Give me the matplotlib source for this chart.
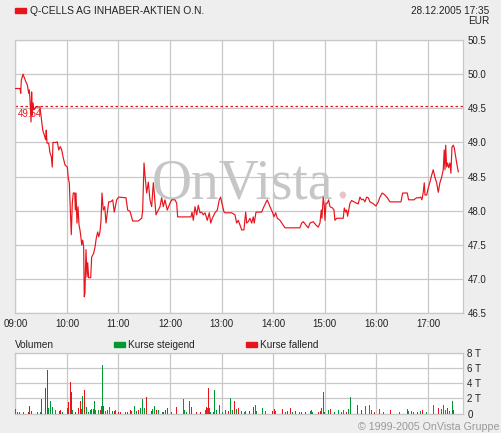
import matplotlib
matplotlib.use("Agg")
import matplotlib.pyplot as plt
from matplotlib.ticker import FixedLocator, FuncFormatter
from matplotlib.patches import Rectangle

# Kursverlauf 28.12.2005, Minuten seit 09:00
price_min = [0, 5.5, 6.3, 7, 9, 11.6, 14, 15.6, 16.3, 17.1, 18.3, 19, 19.8, 20.6, 21.7, 24.1, 28.7,
             30.2, 31.9, 33.7, 35.3, 36, 36.9, 38.8, 40.3, 41.9, 43, 43.8, 47.3, 48.8, 50.5, 52.3, 54,
             55.5, 57.8, 60.5, 61.6, 62.8, 64.4, 65.1, 66.3, 67.4, 69.1, 69.8, 70.6, 71.7, 72.9, 74.1,
             75.2, 76.4, 77.2, 78.4, 79.5, 80.2, 81, 82.2, 83.4, 84.2, 85.3, 87.7, 88.8, 91.2, 92.7,
             94.2, 95.8, 97, 98.5, 99.7, 100.8, 102.3, 104, 105.5, 107, 108.6, 110.9, 113.3, 115.1,
             117.9, 120.2, 128.7, 130.7, 133.4, 136.5, 143, 147, 148.1, 149.7, 150.8, 152.8, 154.7,
             156.6, 158.6, 160.5, 161.6, 163.6, 165.1, 168.3, 170.2, 172.1, 174, 176.7, 179.9, 181.9,
             185.7, 187.7, 188.8, 204.3, 205.5, 207, 209, 210.9, 212.8, 214.8, 216.7, 218.6, 220.6,
             223.3, 225.6, 227.2, 229.1, 232.2, 234.9, 237.2, 238.8, 240.3, 242.7, 244.7, 251.6,
             255.5, 257.4, 259.3, 261.3, 263.3, 265.9, 267.9, 269.1, 270.9, 272.9, 274.9, 276.7,
             277.9, 279.9, 286.5, 288.4, 293, 296.2, 299.3, 300.8, 302.8, 304.7, 307.8, 313.6, 331,
             333, 334.9, 338, 340.7, 342.7, 346.5, 349.7, 352.3, 354.3, 355.8, 356.6, 358.1, 359.3,
             360.1, 361.3, 362.8, 364.4, 365.9, 369, 370.6, 371.7, 373.7, 381.4, 382.6, 384.2, 385.3,
             386.5, 387.7, 389.2, 391.2, 393.8, 397, 398.8, 400.8, 402.8, 404.7, 406.6, 408.6, 410.5,
             412.4, 415.6, 419.4, 422.1, 424.1, 426.7, 429.9, 432.6, 435.7, 448.5, 450.5, 455.8,
             457.4, 463.6, 466.7, 469.8, 471.4, 472.9, 474.4, 475.6, 476.4, 478.4, 480.2, 482.2,
             484.2, 486, 488, 490, 491.9, 493.8, 495.8, 497.7, 498.8, 499.7, 500.5, 501.6, 502.8,
             504, 505.5, 506.6, 507.8, 509.3, 510.5, 512.1, 513.3, 515.2]
price = [49.79, 49.79, 49.72, 49.91, 50.00, 49.91, 49.84, 49.72, 49.77, 49.62, 49.30, 49.74, 49.40,
         49.58, 49.48, 49.52, 49.52, 49.36, 49.18, 49.11, 49.04, 49.18, 48.99, 48.99, 48.85, 48.79,
         48.64, 49.00, 49.00, 49.01, 48.89, 48.94, 48.89, 48.79, 48.67, 48.64, 48.48, 48.41, 47.86,
         47.65, 48.11, 48.26, 48.26, 48.01, 48.26, 47.82, 48.06, 47.79, 47.72, 47.60, 47.50, 47.57,
         47.47, 46.74, 46.80, 47.43, 47.03, 47.24, 47.02, 47.02, 47.32, 47.38, 47.47, 47.60, 47.69,
         47.62, 47.69, 47.86, 48.26, 48.01, 48.06, 47.82, 47.97, 48.13, 48.13, 48.16, 47.98, 48.16,
         48.20, 48.19, 48.01, 47.99, 47.85, 47.85, 47.89, 48.00, 48.70, 48.52, 48.26, 48.42, 48.16,
         48.06, 48.41, 48.26, 47.94, 47.98, 48.06, 48.19, 48.06, 48.16, 48.01, 48.11, 48.16, 48.16,
         48.11, 47.91, 47.91, 47.98, 47.86, 48.06, 47.94, 48.08, 47.97, 47.98, 47.94, 47.97, 47.86,
         47.97, 47.82, 47.89, 47.97, 48.01, 48.16, 48.20, 48.11, 47.98, 47.97, 47.97, 47.94, 47.82,
         47.86, 47.79, 47.72, 47.72, 47.98, 47.82, 47.84, 47.89, 47.82, 47.91, 47.82, 47.98, 47.98,
         48.04, 48.16, 48.06, 47.97, 47.91, 47.97, 47.89, 47.86, 47.75, 47.75, 47.82, 47.84, 47.79,
         47.75, 47.82, 47.84, 47.79, 47.76, 47.82, 48.01, 47.89, 48.20, 48.08, 47.86, 48.11, 48.11,
         48.16, 48.06, 48.04, 48.01, 47.86, 47.89, 47.89, 48.04, 47.98, 48.01, 47.92, 48.01, 48.11,
         48.15, 48.13, 48.11, 48.10, 48.20, 48.16, 48.17, 48.13, 48.20, 48.19, 48.13, 48.11, 48.07,
         48.13, 48.20, 48.26, 48.23, 48.19, 48.13, 48.13, 48.26, 48.26, 48.16, 48.16, 48.19, 48.19,
         48.20, 48.16, 48.27, 48.41, 48.23, 48.23, 48.33, 48.42, 48.52, 48.60, 48.49, 48.41, 48.27,
         48.41, 48.49, 48.60, 48.89, 48.60, 48.96, 48.64, 48.70, 48.63, 48.70, 48.55, 48.93, 48.96,
         48.92, 48.79, 48.70, 48.57]
prev_close = 49.54

# Umsatz (Tausend Stück); g = Kurse steigend, r = Kurse fallend
vol_min = [0, 3, 5, 9, 15, 17, 19, 26, 29, 30, 31, 35, 37, 39, 41, 43, 45, 47, 51, 53, 55, 61, 62, 64,
           65, 67, 70, 73, 76, 77, 78, 80, 81, 83, 85, 88, 89, 91, 92, 93, 95, 97, 99, 100, 101, 103,
           105, 107, 109, 110, 113, 115, 117, 120, 122, 128, 131, 134, 135, 139, 141, 143, 146, 148,
           150, 153, 158, 160, 162, 164, 167, 171, 172, 175, 177, 182, 188, 195, 196, 197, 199, 203,
           205, 209, 211, 215, 221, 222, 224, 225, 226, 227, 230, 232, 234, 237, 238, 241, 245, 248,
           250, 252, 253, 255, 257, 260, 263, 266, 268, 272, 277, 279, 281, 287, 291, 299, 301, 303,
           311, 314, 316, 317, 320, 322, 326, 331, 333, 337, 343, 345, 346, 352, 353, 355, 356, 358,
           359, 360, 364, 366, 367, 371, 376, 379, 382, 385, 388, 390, 398, 403, 407, 409, 412, 414,
           418, 424, 428, 436, 447, 456, 457, 461, 463, 468, 471, 474, 478, 486, 492, 496, 498, 500,
           503, 505, 508, 510, 516]
vol_k = [0.58, 0.22, 0.22, 0.22, 0.22, 0.98, 0.31, 0.22, 0.22, 0.44, 1.91, 3.42, 5.78, 0.67, 1.64,
         0.84, 0.22, 0.44, 0.36, 0.44, 0.22, 0.67, 1.56, 4.22, 2.84, 0.44, 0.22, 0.67, 1.64, 0.58,
         2.31, 3.11, 1.11, 0.89, 0.22, 0.44, 0.58, 0.62, 1.69, 0.44, 1.42, 0.44, 0.44, 0.98, 6.44,
         0.98, 0.31, 0.44, 0.84, 0.53, 0.31, 0.31, 0.44, 0.22, 0.22, 0.22, 0.22, 0.44, 0.31, 0.98,
         0.36, 0.53, 0.67, 1.91, 0.67, 2.18, 0.36, 0.58, 0.98, 0.44, 0.53, 0.22, 0.22, 0.44, 0.67,
         0.22, 0.84, 0.44, 1.91, 0.53, 0.22, 1.69, 0.89, 0.31, 0.22, 0.22, 0.44, 0.89, 0.67, 3.42,
         0.67, 0.22, 0.22, 3.11, 0.44, 0.44, 1.11, 0.22, 0.44, 0.36, 2.04, 0.67, 0.53, 1.69, 0.58,
         0.76, 0.31, 0.22, 0.31, 0.31, 0.89, 1.11, 0.31, 0.76, 0.31, 0.31, 0.58, 0.36, 0.58, 0.22,
         0.22, 0.31, 0.71, 0.22, 0.31, 0.22, 0.22, 0.22, 0.31, 0.44, 0.22, 0.22, 0.22, 0.31, 0.76,
         2.89, 2.49, 0.22, 0.44, 0.84, 0.62, 0.22, 0.44, 0.22, 0.44, 0.22, 0.58, 2.18, 1.11, 0.44,
         0.98, 0.22, 1.11, 0.44, 0.22, 0.58, 0.22, 0.44, 0.22, 0.58, 0.36, 0.31, 0.22, 0.22, 0.31,
         0.44, 0.22, 1.11, 0.76, 0.58, 1.11, 0.44, 0.76, 0.31, 1.69, 0.44, 2.31]
vol_dir = ("ggggrrrggr" "rrrgggrgrr" "grrrrgrrrg" "grrggggggg" "ggrggrgggg" "grgrrrrrgg"
           "grgggrrggr" "ggrrrgrggg" "ggrgrrgrgr" "ggrgggrgrr" "grgrgrgggr" "rggggrrgrg"
           "grrgrgrrgg" "ggrrgggggr" "rggggrggrr" "ggggrggrgr" "gggrgrggrg" "ggrggrr")

hours = ["09:00", "10:00", "11:00", "12:00", "13:00", "14:00", "15:00", "16:00", "17:00"]
price_ticks = [46.5, 47.0, 47.5, 48.0, 48.5, 49.0, 49.5, 50.0, 50.5]
vol_ticks = [0, 2, 4, 6, 8]

BG = "#eeeeee"
GRID = "#c8c8c8"
RED = "#e8141c"
GREEN = "#009933"
TXT = "#222222"
plt.rcParams["font.family"] = ["Liberation Sans", "DejaVu Sans"]

fig = plt.figure(figsize=(5.01, 4.33), dpi=100, facecolor=BG)
W, H = 501, 433


def box(x0, y0, x1, y1):
    return [x0 / W, 1 - y1 / H, (x1 - x0) / W, (y1 - y0) / H]


ax = fig.add_axes(box(15.3, 40, 463.3, 313.2))
av = fig.add_axes(box(15.3, 353.3, 463.3, 413.5))
xmax = 521

hour_pos = [i * 60 for i in range(len(hours))]
for a in (ax, av):
    a.set_facecolor("white")
    a.set_xlim(0, xmax)
    a.xaxis.set_major_locator(FixedLocator(hour_pos))
    a.grid(True, color=GRID, lw=0.9, zorder=0)
    a.set_axisbelow(True)
    for s in a.spines.values():
        s.set_color(GRID)
        s.set_linewidth(0.9)
    a.yaxis.tick_right()
    a.tick_params(length=0, labelsize=7, colors=TXT, pad=3)

ax.set_ylim(46.5, 50.5)
ax.yaxis.set_major_locator(FixedLocator(price_ticks))
ax.yaxis.set_major_formatter(FuncFormatter(lambda v, p: f"{v:.1f}"))
ax.set_xticklabels(hours)
ax.tick_params(axis="x", pad=4)
for t in ax.get_yticklabels():
    t.set_horizontalalignment("left")

# Wasserzeichen
ax.text(0.305, 0.42, "OnVista", transform=ax.transAxes, fontsize=40, family="Liberation Serif",
        color="#c6c6c6", ha="left", va="baseline", zorder=1)
ax.text(0.714, 0.42, ".", transform=ax.transAxes, fontsize=40, family="Liberation Serif",
        color="#e8c4c8", ha="left", va="baseline", zorder=1)

ax.axhline(prev_close, color=RED, lw=0.9, ls=(0, (2, 2)), zorder=2)
ax.text(2.5, prev_close - 0.05, f"{prev_close:.2f}", color=RED, fontsize=7, ha="left", va="top",
        zorder=2)
ax.plot(price_min, price, color=RED, lw=0.85, zorder=3)

av.set_ylim(0, 8)
av.yaxis.set_major_locator(FixedLocator(vol_ticks))
av.yaxis.set_major_formatter(FuncFormatter(lambda v, p: "0" if v == 0 else f"{v:.0f} T"))
av.set_xticklabels([])
for t in av.get_yticklabels():
    t.set_horizontalalignment("left")
assert len(vol_dir) == len(vol_min) == len(vol_k)
cols = [GREEN if d == "g" else RED for d in vol_dir]
av.bar(vol_min, vol_k, width=1.1, color=cols, linewidth=0, zorder=3)

# Kopfzeile
fig.patches.append(Rectangle((15 / W, 1 - 13 / H), 11 / W, 5 / H, transform=fig.transFigure,
                             color=RED))
fig.text(29.5 / W, 1 - 10.5 / H, "Q-CELLS AG INHABER-AKTIEN O.N.", fontsize=7.4, color=TXT,
         va="center", ha="left")
fig.text(489 / W, 1 - 10.5 / H, "28.12.2005 17:35", fontsize=7.2, color=TXT, va="center", ha="right")
fig.text(489 / W, 1 - 20.5 / H, "EUR", fontsize=7.2, color=TXT, va="center", ha="right")

# Legende Umsatz
fig.text(15 / W, 1 - 344.5 / H, "Volumen", fontsize=7.2, color=TXT, va="center", ha="left")
fig.patches.append(Rectangle((114 / W, 1 - 347 / H), 11 / W, 5 / H, transform=fig.transFigure,
                             color=GREEN))
fig.text(128.5 / W, 1 - 344.5 / H, "Kurse steigend", fontsize=7.2, color=TXT, va="center", ha="left")
fig.patches.append(Rectangle((246 / W, 1 - 347 / H), 11 / W, 5 / H, transform=fig.transFigure,
                             color=RED))
fig.text(260.5 / W, 1 - 344.5 / H, "Kurse fallend", fontsize=7.2, color=TXT, va="center", ha="left")

fig.text(499 / W, 1 - 427.5 / H, "\u00a9 1999-2005 OnVista Gruppe", fontsize=7.7, color="#999999",
         va="center", ha="right")

fig.savefig("out.png", dpi=100, facecolor=BG)
